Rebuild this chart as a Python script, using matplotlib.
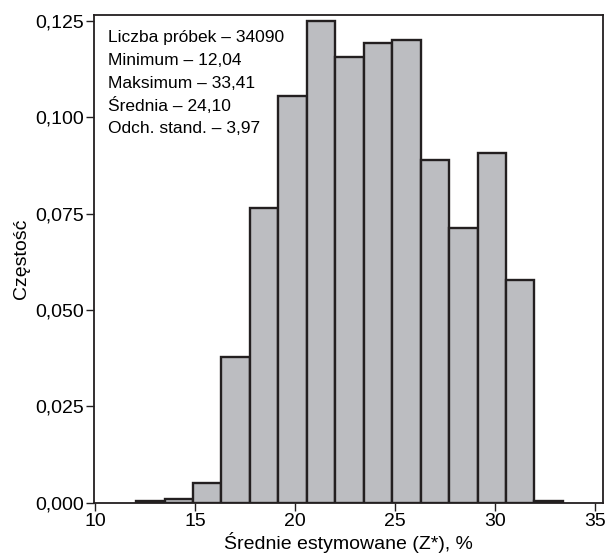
import numpy as np
import matplotlib.pyplot as plt

plt.rcParams['font.family'] = ['Liberation Sans', 'DejaVu Sans']

# histogram: 15 classes between min and max, relative frequency
x_min = 12.04
x_max = 33.41
czestosc = [0.0004, 0.0009, 0.0051, 0.0377, 0.0765, 0.1056, 0.1249, 0.1157,
            0.1192, 0.1201, 0.0889, 0.0712, 0.0907, 0.0578, 0.0004]
x_ticks = [10, 15, 20, 25, 30, 35]
y_ticks = [0.0, 0.025, 0.05, 0.075, 0.1, 0.125]
y_tick_labels = ['0,000', '0,025', '0,050', '0,075', '0,100', '0,125']
stat_lines = ['Liczba próbek – 34090', 'Minimum – 12,04', 'Maksimum – 33,41',
              'Średnia – 24,10', 'Odch. stand. – 3,97']

edges = np.linspace(x_min, x_max, len(czestosc) + 1)
szer = np.diff(edges)

fig = plt.figure(figsize=(6.14, 5.55), dpi=100)
ax = fig.add_axes([0.1536, 0.0942, 0.828, 0.8793])

ax.bar(edges[:-1], czestosc, width=szer, align='edge', color='#bcbdc1',
       edgecolor='#231f20', linewidth=1.7)

ax.set_xlim(9.95, 35.4)
ax.set_ylim(0, 0.1266)
ax.set_xticks(x_ticks)
ax.set_yticks(y_ticks)
ax.set_yticklabels(y_tick_labels)
ax.tick_params(labelsize=14, length=6, width=1, color='#231f20', pad=1.5)
for s in ax.spines.values():
    s.set_linewidth(1.3)
    s.set_color('#231f20')

ax.set_xlabel('Średnie estymowane (Z*), %', fontsize=14, labelpad=1.5)
ax.set_ylabel('Częstość', fontsize=14, labelpad=4)

for i, line in enumerate(stat_lines):
    ax.text(0.027, 0.953 - i * 0.0465, line, transform=ax.transAxes,
            fontsize=12.5, va='center', ha='left')

fig.savefig('out.png', dpi=100)
